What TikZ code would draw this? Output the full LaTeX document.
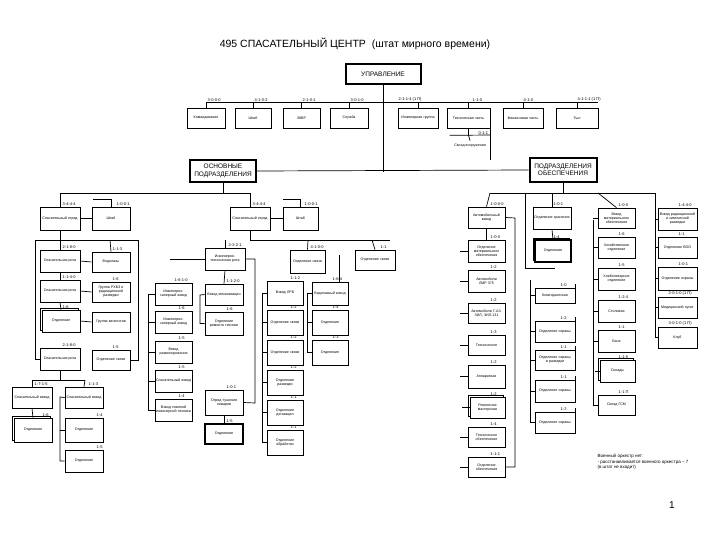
\documentclass[tikz,border=0pt]{standalone}
\usepackage{fontspec}
\setmainfont{Liberation Sans}
\usetikzlibrary{shadows}
\begin{document}
\begin{tikzpicture}[x=1pt,y=-1pt,
  box/.style={draw,line width=0.7pt,fill=white,inner sep=0.5pt,align=center,font=\fontsize{3.6}{4}\selectfont},
  main/.style={box,line width=2pt,font=\fontsize{6.5}{7.5}\selectfont},
  sh/.style={copy shadow={shadow xshift=-1.5pt,shadow yshift=1.5pt,draw,fill=white}},
  code/.style={font=\fontsize{4}{4.5}\selectfont,inner sep=0.5pt,anchor=south west},
  ln/.style={line width=0.7pt}]
\useasboundingbox (0,0) rectangle (720,540);
\newcommand\bx[7][]{\node[box,#1,minimum width={(#4-#2)*1pt},minimum height={(#5-#3)*1pt},text width={(#4-#2-2)*1pt}] (#6) at ({(#2+#4)/2},{(#3+#5)/2}) {#7};}
\newcommand\cd[3]{\node[code] at (#1,#2) {#3};}
\node[font=\fontsize{10.5}{12}\selectfont] (title) at (355,44) {495 СПАСАТЕЛЬНЫЙ ЦЕНТР\ \ (штат мирного времени)};
\node[main,minimum width=75pt,minimum height=20pt] (upr) at (383,74) {УПРАВЛЕНИЕ};
\node[main,minimum width=66pt,minimum height=22pt,align=center] (osn) at (223,171) {ОСНОВНЫЕ\\ПОДРАЗДЕЛЕНИЯ};
\node[main,minimum width=67pt,minimum height=24pt,align=center] (obs) at (563,170) {ПОДРАЗДЕЛЕНИЯ\\ОБЕСПЕЧЕНИЯ};
\draw[ln] (upr.south) -- (383,172);
\draw[ln] (osn.east) -- (obs.west);
\draw[ln] (206,102) -- (598,102);
\bx{187}{108}{225}{128}{t1}{Командование}\cd{207}{102}{3-0-0-0}
\bx{235}{108}{271}{128}{t2}{Штаб}\cd{254}{102}{4-1-0-2}
\bx{283}{108}{320}{128}{t3}{ЗКВР}\cd{302}{102}{2-1-0-1}
\bx{330}{108}{368}{128}{t4}{Служба}\cd{350}{102}{3-0-1-0}
\bx{398}{108}{438}{128}{t5}{Инженерная группа}\cd{398}{102}{2-1-1-4 (1 П)}
\bx{447}{108}{490}{128}{t6}{Техническая часть}\cd{472}{102}{1-1-0}
\bx{503}{108}{543}{128}{t7}{Финансовая часть}\cd{523}{102}{4-1-0}
\bx{556}{108}{598}{128}{t8}{Тыл}\cd{577}{102}{4-1-1-1 (1 П)}
\foreach \n in {t1,t2,t3,t4,t5,t6,t7,t8}{\draw[ln] (\n.north) -- ++(0,-6);}
\node[box,draw=none,minimum width=40pt,minimum height=10pt] (t9) at (470,146) {Склад вооружения};
\draw[ln] (t6.south) -- ++(0,7) coordinate (c6) -- (t9.north);
\draw[ln] (t9.north west|-c6) -- (490,135); \draw[ln] (490,128) -- (490,160);
\cd{478}{135}{0-1-1}
\draw[ln] (osn.south) -- (223,193);
\draw[ln] (60,193) -- (250,193);
\bx{40}{207}{80}{230}{A}{Спасательный отряд}\cd{62}{206}{3-4-4-4}
\bx{92}{207}{130}{230}{B}{Штаб}\cd{116}{206}{1-0-0-1}
\bx{230}{207}{270}{230}{C}{Спасательный отряд}\cd{252}{206}{3-4-4-4}
\bx{283}{207}{318}{230}{D}{Штаб}\cd{304}{206}{1-0-0-1}
\draw[ln] (60,193) -- (A.north); \draw[ln] (250,193) -- (C.north);
\draw[ln] (A.east) -- (B.west); \draw[ln] (C.east) -- (D.west);
\draw[ln] (B.north) -- ++(0,-7) -| ++(-18,0);
\draw[ln] (D.north) -- ++(0,-7) -| ++(-18,0);
\draw[ln] (A.south) -- (60,240);
\draw[ln] (35,240) -- (138,240);
\bx{40}{250}{80}{272}{E}{Спасательная рота}\cd{62}{249}{2-1-8-0}
\bx{40}{280}{80}{302}{F}{Спасательная рота}\cd{62}{279}{1-1-4-0}
\bx[sh]{42}{310}{80}{332}{G}{Отделение}\cd{62}{309}{1-6}
\bx{40}{348}{80}{370}{H}{Спасательная рота}\cd{62}{347}{2-1-8-0}
\bx{92}{252}{130}{272}{I}{Водолазы}\cd{112}{251}{1-1-3}
\bx{92}{282}{130}{302}{J}{Группа РХБЗ и радиационной разведки}\cd{112}{281}{1-6}
\bx{92}{312}{130}{332}{K}{Группа кинологов}
\bx{92}{350}{130}{370}{L}{Отделение связи}\cd{112}{349}{1-5}
\draw[ln] (60,240)--(E.north); \draw[ln] (E.south)--(F.north); \draw[ln] (F.south)--(G.north);
\draw[ln] (110,240)--(I.north);
\draw[ln] (E.east)--(I.west); \draw[ln] (F.east)--(J.west); \draw[ln] (G.east)--(K.west);
\draw[ln] (35,240) |- (H.west); \draw[ln] (138,240) |- (L.east);
\draw[ln] (H.south) -- (60,380); \draw[ln] (32,380) -- (85,380);
\bx{12}{387}{52}{408}{M}{Спасательный взвод}\cd{34}{386}{1-7-1-5}
\bx{65}{387}{103}{408}{N}{Спасательный взвод}\cd{88}{386}{1-1-3}
\draw[ln] (32,380)--(M.north); \draw[ln] (85,380)--(N.north);
\bx[sh]{14}{418}{52}{442}{O}{Отделение}\cd{42}{417}{1-6}
\draw[ln] (M.south)--(O.north);
\bx{65}{418}{103}{442}{P}{Отделение}\cd{96}{417}{1-4}
\bx{65}{450}{103}{472}{Q}{Отделение}\cd{96}{449}{1-5}
\draw[ln] (N.west) -- (60,397) -- (60,461) -- (Q.west); \draw[ln] (60,430)--(P.west);
\draw[ln] (C.south) -- (250,240); \draw[ln] (250,240) -- (390,240);
\bx{205}{248}{245}{270}{R}{Инженерно-техническая рота}\cd{228}{247}{2-2-2-1}
\bx{290}{250}{325}{273}{S}{Отделение связи}\cd{310}{249}{4-1-0-0}
\bx{355}{250}{395}{270}{T}{Отделение связи}\cd{380}{249}{1-1}
\draw[ln] (225,240)--(R.north); \draw[ln] (308,240)--(S.north); \draw[ln] (372,240)--(T.north);
\draw[ln] (R.west) -- (170,259);
\bx{155}{283}{192}{305}{R1}{Инженерно-саперный взвод}\cd{174}{282}{1-6-1-0}
\bx{155}{311}{192}{333}{R2}{Инженерно-саперный взвод}\cd{178}{310}{1-6}
\bx{155}{341}{192}{363}{R3}{Взвод разминирования}\cd{178}{340}{1-5}
\bx{155}{370}{192}{392}{R4}{Спасательный взвод}\cd{178}{369}{1-5}
\bx{155}{399}{192}{421}{R5}{Взвод тяжелой инженерной техники}\cd{178}{398}{1-4}
\draw[ln] (148,294) -- (148,410);
\foreach \n in {R1,R2,R3,R4,R5}{\draw[ln] (\n.west) -- ++(-7,0);}
\bx{205}{284}{243}{305}{R6}{Взвод механизации}\cd{226}{283}{1-1-2-0}
\bx{205}{312}{243}{335}{R7}{Отделение ремонта техники}\cd{226}{311}{1-6}
\draw[ln] (R.south)--(R6.north);
\draw[ln] (R6.west) -- (200,295) |- (R7.west);
\bx{205}{390}{243}{415}{U}{Отряд тушения пожаров}\cd{226}{389}{1-0-1}
\bx[line width=1.2pt]{205}{424}{243}{444}{V}{Отделение}\cd{226}{423}{1-5}
\draw[ln] (R.east) -- (255,259) -- (255,403) -- (U.east); \draw[ln] (U.south)--(V.north);
\bx{267}{281}{303}{305}{S1}{Взвод ЛРБ}\cd{290}{280}{1-1-2}
\bx{267}{310}{303}{335}{S2}{Отделение связи}\cd{290}{309}{1-2}
\bx{267}{340}{303}{365}{S3}{Отделение связи}\cd{290}{339}{1-2}
\bx{267}{370}{303}{395}{S4}{Отделение разведки}\cd{290}{369}{1-2}
\bx{267}{400}{303}{425}{S5}{Отделение дегазации}\cd{290}{399}{1-1}
\bx{267}{430}{303}{455}{S6}{Отделение обработки}\cd{290}{429}{1-1}
\draw[ln] (262,293) -- (262,443);
\foreach \n in {S1,S2,S3,S4,S5,S6}{\draw[ln] (\n.west) -- ++(-5,0);}
\bx{312}{282}{348}{305}{W}{Водолазный взвод}\cd{332}{281}{1-6-4}
\bx{312}{310}{348}{335}{X}{Отделение}\cd{332}{309}{1-4}
\bx{312}{340}{348}{365}{Y}{Отделение}\cd{332}{339}{1-3}
\draw[ln] (339,255) -- (339,282);
\draw[ln] (307,294) -- (307,353);
\foreach \n in {W,X,Y}{\draw[ln] (\n.west) -- ++(-5,0);}
\draw[ln] (obs.south) -- (563,193); \draw[ln] (490,193) -- (655,193);
\bx{468}{207}{505}{228}{Z1}{Автомобильный взвод}\cd{490}{206}{1-0-0-0}
\bx{468}{240}{505}{262}{Z2}{Отделение материального обеспечения}\cd{490}{239}{1-0-0}
\bx{468}{270}{505}{292}{Z3}{Автомобили ЛМР 375}\cd{490}{269}{1-2}
\bx{468}{303}{505}{323}{Z4}{Автомобили Г-АЗ, ЗИЛ, ЗИЛ-131}\cd{490}{302}{1-2}
\bx{468}{335}{505}{355}{Z5}{Техническое}\cd{490}{334}{1-3}
\bx{468}{365}{505}{388}{Z6}{Аппаратная}\cd{490}{364}{1-2}
\bx[sh]{470}{397}{505}{418}{Z7}{Ремонтная мастерская}\cd{490}{396}{1-2}
\bx{468}{427}{505}{447}{Z8}{Техническое обеспечение}\cd{490}{426}{1-4}
\bx{468}{457}{505}{477}{Z9}{Отделение обеспечения}\cd{490}{456}{1-1-1}
\draw[ln] (490,193)--(Z1.north); \draw[ln] (Z1.south)--(Z2.north);
\foreach \n in {Z2,Z3,Z4,Z5,Z6,Z7,Z8,Z9}{\draw[ln] (\n.west) -- ++(-8,0);}
\draw[ln] (Z1.east) -- (515,218) -- (515,467) -- (Z9.east);
\draw[ln] (525,193) -- (525,268);
\bx{533}{207}{571}{229}{AA}{Отделение хранения}\cd{553}{206}{1-0-1}
\bx[sh,line width=1.2pt]{535}{240}{571}{262}{AB}{Отделение}\cd{553}{239}{1-4}
\draw[ln] (552,193)--(AA.north); \draw[ln] (AA.south)--(AB.north);
\draw[ln] (525,268) -- (555,268);
\bx{535}{288}{575}{303}{M1}{Комендантская}\cd{560}{287}{1-0}
\bx{535}{321}{575}{342}{M2}{Отделение охраны}\cd{560}{320}{1-2}
\bx{535}{350}{575}{370}{M3}{Отделение охраны и разведки}\cd{560}{349}{1-1}
\bx{535}{380}{575}{402}{M4}{Отделение охраны}\cd{560}{379}{1-1}
\bx{535}{412}{575}{433}{M5}{Отделение охраны}\cd{560}{411}{1-2}
\draw[ln] (530,280) -- (530,423);
\foreach \n in {M1,M2,M3,M4,M5}{\draw[ln] (\n.west) -- ++(-5,0); \draw[ln] (\n.north east) -- ++(0,-4);}
\bx{598}{208}{635}{228}{P1}{Взвод материального обеспечения}\cd{618}{207}{1-0-0}
\bx{598}{237}{635}{258}{P2}{Хозяйственное отделение}\cd{618}{236}{1-6}
\bx{598}{268}{635}{290}{P3}{Хлебопекарное отделение}\cd{618}{267}{1-5}
\bx{598}{300}{635}{322}{P4}{Столовая}\cd{618}{299}{1-2-4}
\bx{598}{330}{635}{352}{P5}{Баня}\cd{618}{329}{1-1}
\bx[sh]{600}{360}{635}{382}{P6}{Склады}\cd{618}{359}{1-1-5}
\bx{598}{395}{635}{415}{P7}{Склад ГСМ}\cd{618}{394}{1-1 П}
\draw[ln] (598,193)--(P1.north);
\draw[ln] (593,220) -- (593,405);
\draw[ln] (P1.west) -- ++(-5,0);
\foreach \n in {P2,P3,P4,P5,P6,P7}{\draw[ln] (\n.west) -- ++(-5,0);}
\bx{658}{208}{697}{230}{F1}{Взвод радиационной и химической разведки}\cd{678}{207}{1-4-4-0}
\bx{658}{237}{697}{258}{F2}{Отделение ВОО}\cd{678}{236}{1-1}
\bx{658}{267}{697}{290}{F3}{Отделение охраны}\cd{678}{266}{1-0-1}
\bx{658}{297}{697}{318}{F4}{Медицинский пункт}\cd{668}{296}{2-0-1-0 (1 П)}
\bx{658}{327}{697}{348}{F5}{Клуб}\cd{668}{326}{3-0-1-0 (1 П)}
\draw[ln] (655,193) -- (655,338);
\foreach \n in {F1,F2,F3,F4,F5}{\draw[ln] (\n.west) -- ++(-3,0);}
\node[font=\fontsize{4.5}{5.5}\selectfont,align=left,anchor=north west] (note) at (594,451) {Военный оркестр нет:\\- расстанавливается военного оркестра -- 7\\(в штат не входит)};
\node[font=\fontsize{10}{12}\selectfont] (pg) at (672,505) {1};
\end{tikzpicture}
\end{document}
